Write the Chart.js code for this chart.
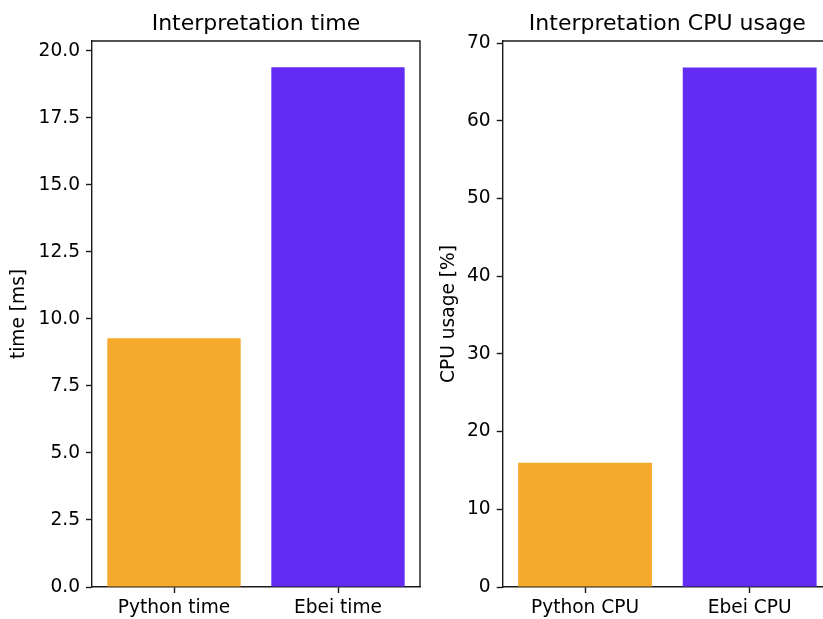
<!DOCTYPE html>
<html>
<head>
<meta charset="utf-8">
<script src="https://cdn.jsdelivr.net/npm/chart.js@4.4.1/dist/chart.umd.min.js"></script>
<style>
  html, body { margin: 0; padding: 0; background: #fff; overflow: hidden; width: 823px; height: 619px; }
  .box { position: absolute; top: 0; height: 619px; overflow: hidden; }
  #leftBox { left: 0; width: 430px; }
  #rightBox { left: 430px; width: 393px; }
  canvas { display: block; }
</style>
</head>
<body>
<div class="box" id="leftBox"><canvas id="timeChart" width="430" height="619"></canvas></div>
<div class="box" id="rightBox"><canvas id="cpuChart" width="412" height="619"></canvas></div>
<script>
// data
const timeLabels = ['Python time', 'Ebei time'];
const timeValues = [9.28, 19.39];
const timeTicks = [0, 2.5, 5, 7.5, 10, 12.5, 15, 17.5, 20];

const cpuLabels = ['Python CPU', 'Ebei CPU'];
const cpuValues = [16.0, 66.9];
const cpuTicks = [0, 10, 20, 30, 40, 50, 60, 70];

const barColors = ['#f5aa2b', '#622cf5'];
const FONT = 'DejaVu Sans';
const INK = '#1a1a1a';

Chart.defaults.font.family = FONT;
Chart.defaults.color = '#000';
Chart.defaults.animation = false;

// matplotlib-like spines (top/right) + title centred over the axes
const axesDecor = {
  id: 'axesDecor',
  afterDraw(chart, args, opts){
    const a = chart.chartArea, ctx = chart.ctx;
    ctx.save();
    ctx.strokeStyle = INK;
    ctx.lineWidth = 1.4;
    ctx.beginPath();
    ctx.moveTo(a.left, a.top);
    ctx.lineTo(a.right, a.top);
    ctx.lineTo(a.right, a.bottom);
    ctx.stroke();
    ctx.fillStyle = '#000';
    ctx.font = '22px "DejaVu Sans"';
    ctx.textAlign = 'center';
    ctx.textBaseline = 'alphabetic';
    ctx.fillText(opts.text, (a.left + a.right) / 2, a.top - 11);
    ctx.restore();
  }
};

function makeChart(id, labels, values, ticks, yMax, yTitle, title, axisWidth, rightPad, fmt){
  return new Chart(document.getElementById(id), {
    type: 'bar',
    data: {
      labels,
      datasets: [{ data: values, backgroundColor: barColors, borderWidth: 0, barPercentage: 0.813, categoryPercentage: 1 }]
    },
    options: {
      responsive: false,
      layout: { padding: { left: 0, right: rightPad, top: 41, bottom: 0 } },
      plugins: {
        legend: { display: false },
        tooltip: { enabled: false },
        title: { display: false },
        axesDecor: { text: title }
      },
      scales: {
        x: {
          offset: true,
          grid: { display: true, drawOnChartArea: false, drawTicks: true, tickLength: 6, tickColor: INK, tickWidth: 1.4, offset: false },
          border: { display: true, color: INK, width: 1.4 },
          ticks: { font: { size: 18.6 }, color: '#000', padding: 4, maxRotation: 0 },
          afterFit(s){ s.height = 32; }
        },
        y: {
          min: 0, max: yMax,
          grid: { display: true, drawOnChartArea: false, drawTicks: true, tickLength: 6, tickColor: INK, tickWidth: 1.4 },
          border: { display: true, color: INK, width: 1.4 },
          ticks: { font: { size: 18.6 }, color: '#000', padding: 6, callback: fmt },
          afterBuildTicks(s){ s.ticks = ticks.map(v => ({ value: v })); },
          title: { display: true, text: yTitle, color: '#000', font: { size: 18.6 }, padding: { top: 8, bottom: 0 } },
          afterFit(s){ s.width = axisWidth; }
        }
      }
    },
    plugins: [axesDecor]
  });
}

makeChart('timeChart', timeLabels, timeValues, timeTicks, 20.37, 'time [ms]', 'Interpretation time', 92, 10, v => Number(v).toFixed(1));
// right axes runs past the window edge, as in the reference
makeChart('cpuChart', cpuLabels, cpuValues, cpuTicks, 70.3, 'CPU usage [%]', 'Interpretation CPU usage', 72.7, 10, v => String(v));
</script>
</body>
</html>
